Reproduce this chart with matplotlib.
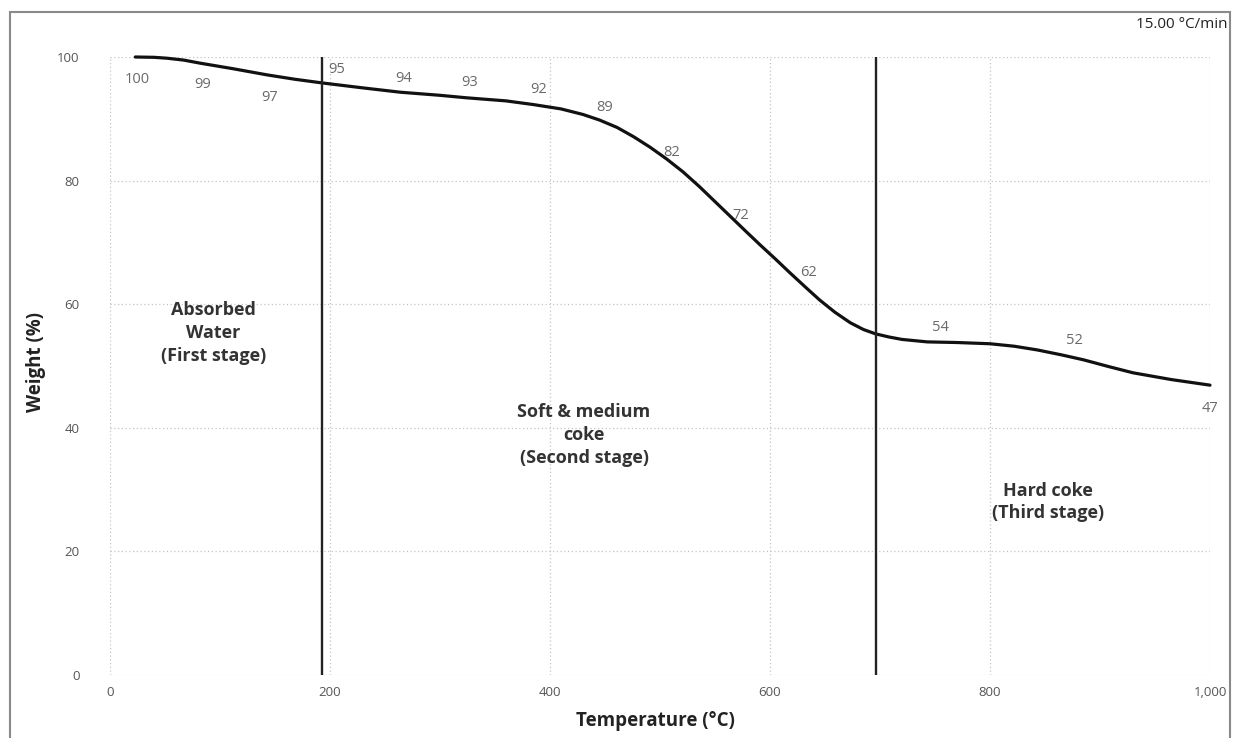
import matplotlib
matplotlib.use("Agg")
import matplotlib.pyplot as plt
from matplotlib.patches import Rectangle

plt.rcParams['font.family'] = ['Open Sans', 'DejaVu Sans']

# TGA curve
temperature = [23, 40, 52, 67, 82, 112, 143, 168, 193, 230, 264, 300, 324, 360, 385,
               410, 430, 445, 461, 476, 491, 506, 521, 536, 550, 564, 578, 591, 605,
               618, 632, 645, 659, 673, 685, 696, 708, 720, 743, 770, 800, 822, 843,
               865, 885, 908, 930, 965, 1000]
weight = [100, 99.95, 99.8, 99.5, 99.0, 98.1, 97.1, 96.4, 95.8, 95.0, 94.3, 93.8, 93.4, 92.9, 92.3,
          91.6, 90.7, 89.8, 88.6, 87.1, 85.4, 83.5, 81.4, 79.0, 76.6, 74.2, 71.8, 69.6, 67.3,
          65.1, 62.8, 60.7, 58.7, 57.0, 55.9, 55.2, 54.7, 54.3, 53.9, 53.8, 53.6, 53.2, 52.6,
          51.8, 51.0, 49.9, 48.9, 47.8, 46.9]

# value labels written along the curve
label_values = ["100", "99", "97", "95", "94", "93", "92", "89", "82", "72", "62", "54", "52", "47"]
label_t = [24.5, 84.5, 145.5, 206, 267, 327, 390, 450, 511, 573, 635, 755, 877, 1000]
label_w = [96.3, 95.5, 93.5, 97.9, 96.6, 95.8, 94.8, 91.9, 84.6, 74.4, 65.2, 56.3, 54.2, 43.2]

stage_bounds = [193, 696]
x_ticks = [0, 200, 400, 600, 800, 1000]
x_ticklabels = ["0", "200", "400", "600", "800", "1,000"]
y_ticks = [0, 20, 40, 60, 80, 100]

fig = plt.figure(figsize=(12.34, 7.38), dpi=100)
fig.patch.set_facecolor('white')
fig.add_artist(Rectangle((10 / 1234, -0.02), 1220 / 1234, (738 - 12) / 738 + 0.02,
                         transform=fig.transFigure, fill=False, edgecolor='#8a8a8a', lw=1.5))

ax = fig.add_axes([110 / 1234, 63 / 738, 1100 / 1234, 618 / 738])
ax.set_xlim(0, 1000)
ax.set_ylim(0, 100)
for s in ax.spines.values():
    s.set_visible(False)
ax.set_xticks(x_ticks)
ax.set_xticklabels(x_ticklabels)
ax.set_yticks(y_ticks)
ax.tick_params(length=0, labelsize=9.5, labelcolor='#555555')
ax.tick_params(axis='y', pad=22)
ax.tick_params(axis='x', pad=8)
ax.grid(True, linestyle=(0, (1, 2)), color='#c4c4c4', lw=0.9)
ax.set_axisbelow(True)

ax.plot(temperature, weight, color='#111111', lw=2.3, solid_capstyle='round',
        solid_joinstyle='round', clip_on=False)
ax.vlines(stage_bounds, 0, 100, colors='#222222', lw=1.7)

for v, t, w in zip(label_values, label_t, label_w):
    ax.text(t, w, v, ha='center', va='center', fontsize=10.5, color='#6a6a6a')

ax.text(94, 55.3, "Absorbed\nWater\n(First stage)", ha='center', va='center',
        fontsize=13, fontweight='bold', color='#333333', linespacing=1.35)
ax.text(431, 38.8, "Soft & medium\ncoke\n(Second stage)", ha='center', va='center',
        fontsize=13, fontweight='bold', color='#333333', linespacing=1.35)
ax.text(853, 28, "Hard coke\n(Third stage)", ha='center', va='center',
        fontsize=13, fontweight='bold', color='#333333', linespacing=1.35)

fig.text(1227 / 1234, 1 - 25 / 738, "15.00 °C/min", ha='right', va='center',
         fontsize=11, color='#222222')
fig.text(655 / 1234, 1 - 721 / 738, "Temperature (°C)", ha='center', va='center',
         fontsize=13.5, fontweight='bold', color='#222222')
fig.text(36 / 1234, 1 - 362 / 738, "Weight (%)", ha='center', va='center', rotation=90,
         fontsize=13.5, fontweight='bold', color='#222222')

fig.savefig("out.png", dpi=100)
